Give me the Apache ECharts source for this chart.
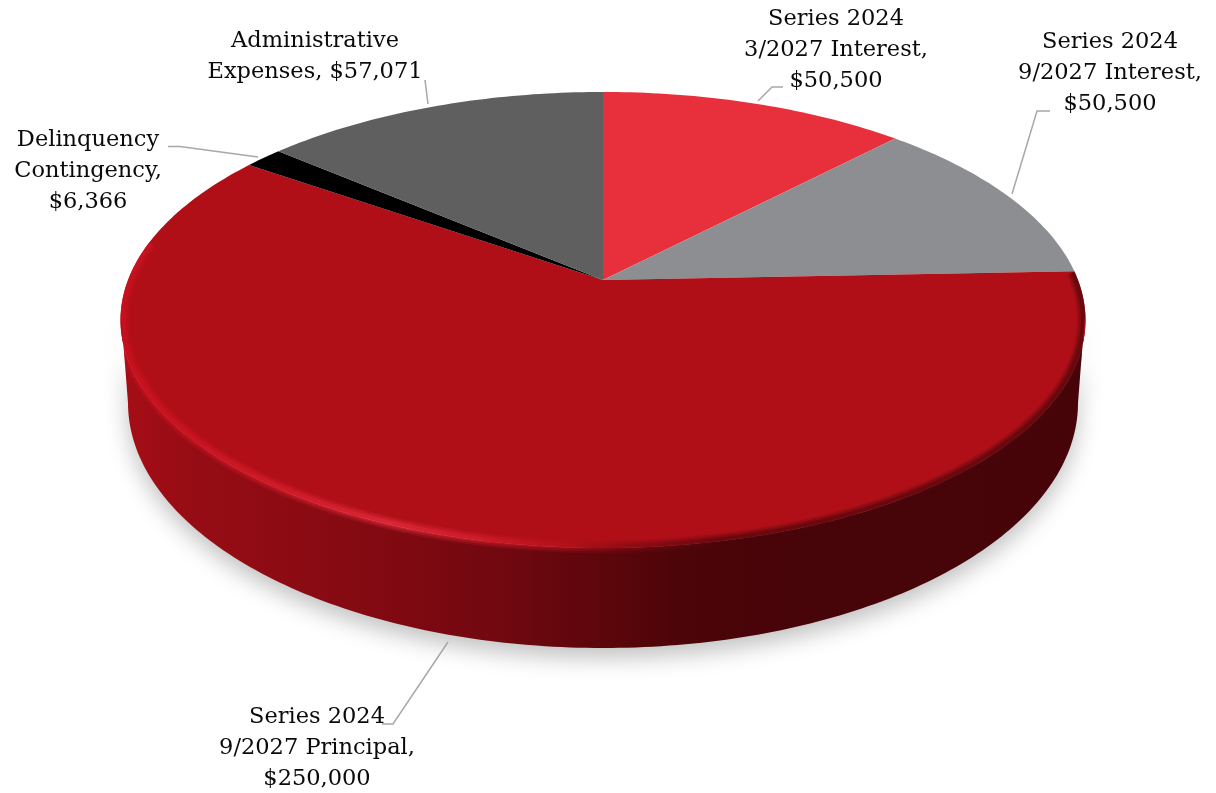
<!DOCTYPE html>
<html>
<head>
<meta charset="utf-8">
<title>Series 2024 uses of funds</title>
<script src="https://cdn.jsdelivr.net/npm/echarts@6/dist/echarts.min.js"></script>
<style>
  html, body { margin: 0; padding: 0; background: #fff; }
  #chart { width: 1216px; height: 793px; }
</style>
</head>
<body>
<div id="chart"></div>
<script>
// Slices, clockwise from twelve o'clock.
const sliceNames = [
  'Series 2024\n3/2027 Interest,\n{v}',
  'Series 2024\n9/2027 Interest,\n{v}',
  'Series 2024\n9/2027 Principal,\n{v}',
  'Delinquency\nContingency,\n{v}',
  'Administrative\nExpenses, {v}'
];
const sliceValues = [50500, 50500, 250000, 6366, 57071];
const sliceColors = ['#e8303c', '#8d8e91', '#b00f18', '#000000', '#5f5f5f'];

// Label anchors (block centre) and leader lines, one per slice.
const labelCenters = [[836, 50], [1110, 73], [317, 748], [88, 171], [315, 57]];
const leaderPaths = [
  [[758, 101], [772, 87], [783, 87]],
  [[1012, 194], [1037, 111], [1050, 111]],
  [[448, 642], [393, 724], [382, 724]],
  [[258, 157], [180, 146.5], [168, 146.5]],
  [[428, 104], [425, 80]]
];

// Tilted-disc projection: the apex sits above the centre of the visible ellipse.
const disc = { cx: 603, cy: 280, a: 475, b: 221, k: 0.1754 };
const base = { cx: 603, cy: 403, a: 475, b: 245 };
const total = sliceValues.reduce((s, v) => s + v, 0);
const rad = Math.PI / 180;

function topPoint(deg, scale) {
  const r = scale === undefined ? 1 : scale;
  const u = r * Math.sin(deg * rad), v = r * Math.cos(deg * rad), w = 1 + disc.k * v;
  return [disc.cx + disc.a * u / w, disc.cy - disc.b * v / w];
}
function basePoint(deg) {
  return [base.cx + base.a * Math.sin(deg * rad), base.cy - base.b * Math.cos(deg * rad)];
}
function arc(fn, from, to) {
  const pts = [], n = Math.max(2, Math.ceil(Math.abs(to - from)));
  for (let i = 0; i <= n; i++) pts.push(fn(from + (to - from) * i / n));
  return pts;
}
function startAngle(index) {
  let s = 0;
  for (let i = 0; i < index; i++) s += sliceValues[i];
  return s / total * 360;
}
function gradient(stops) {
  return new echarts.graphic.LinearGradient(0, 0, 1, 0,
    stops.map(s => ({ offset: s[0], color: s[1] })));
}

const wallStops = [
  [0, '#a60d16'], [0.08, '#960c14'], [0.2, '#8a0b13'], [0.3, '#7e0911'], [0.4, '#700810'],
  [0.5, '#5c060b'], [0.58, '#4c0509'], [0.66, '#480408'], [1, '#470408']
];
const rimStops = [
  [0, '#cf1020'], [0.08, '#d41626'], [0.18, '#de2030'], [0.28, '#ea3040'], [0.38, '#d81e2c'],
  [0.46, '#b5121b'], [0.53, '#800a11'], [0.62, '#4c0509'], [1, '#4a0508']
];

// Side wall of whichever slices wrap the front of the disc, with its cast shadow.
function renderWall(params, api) {
  const from = startAngle(params.dataIndex);
  const to = from + api.value(0) / total * 360;
  if (from > 100 || to < 260) return { type: 'group', children: [] };
  const points = arc(basePoint, 90, 270).concat(arc(topPoint, 262, 98));
  return {
    type: 'polygon',
    shape: { points },
    style: {
      fill: gradient(wallStops),
      shadowColor: 'rgba(0,0,0,0.24)', shadowBlur: 22, shadowOffsetX: 0, shadowOffsetY: 10
    }
  };
}

// Flat top face of one slice.
function renderSlice(params, api) {
  const from = startAngle(params.dataIndex);
  const to = from + api.value(0) / total * 360;
  return {
    type: 'polygon',
    shape: { points: [[disc.cx, disc.cy]].concat(arc(topPoint, from, to)) },
    style: { fill: sliceColors[params.dataIndex] }
  };
}

// Soft bevel where the front of the top face meets the wall, kept inside the solid's outline.
function renderBevel(params, api) {
  const from = startAngle(params.dataIndex);
  const to = from + api.value(0) / total * 360;
  if (from > 100 || to < 260) return { type: 'group', children: [] };
  const points = arc(deg => topPoint(deg, 0.996), 88, 280);
  const outline = arc(topPoint, 98, -98).concat(arc(basePoint, -90, -270));
  const band = (lineWidth, opacity) => ({
    type: 'polyline',
    shape: { points },
    style: { fill: null, stroke: gradient(rimStops), lineWidth, opacity, lineCap: 'butt' }
  });
  return {
    type: 'group',
    clipPath: { type: 'polygon', shape: { points: outline } },
    children: [band(13, 0.2), band(9, 0.3), band(5, 0.45)]
  };
}

// Leader line plus text for one slice.
function renderLabel(params, api) {
  const i = params.dataIndex;
  const money = '$' + api.value(0).toLocaleString('en-US');
  return {
    type: 'group',
    children: [
      {
        type: 'polyline',
        shape: { points: leaderPaths[i] },
        style: { fill: null, stroke: '#a8a8a8', lineWidth: 1.5 }
      },
      {
        type: 'text',
        style: {
          text: sliceNames[i].replace('{v}', money),
          x: labelCenters[i][0], y: labelCenters[i][1],
          align: 'center', verticalAlign: 'middle',
          fontFamily: '"DejaVu Serif"', fontSize: 22.5, lineHeight: 30.7, fill: '#0a0a0a'
        }
      }
    ]
  };
}

const chart = echarts.init(document.getElementById('chart'), null, { renderer: 'canvas' });
const layer = (name, renderItem, z) => ({
  type: 'custom', name, coordinateSystem: 'none', renderItem, z, silent: true,
  data: sliceValues.map(v => [v])
});
chart.setOption({
  animation: false,
  backgroundColor: '#ffffff',
  series: [
    layer('wall', renderWall, 1),
    layer('slices', renderSlice, 2),
    layer('bevel', renderBevel, 3),
    layer('labels', renderLabel, 4)
  ]
});
</script>
</body>
</html>
